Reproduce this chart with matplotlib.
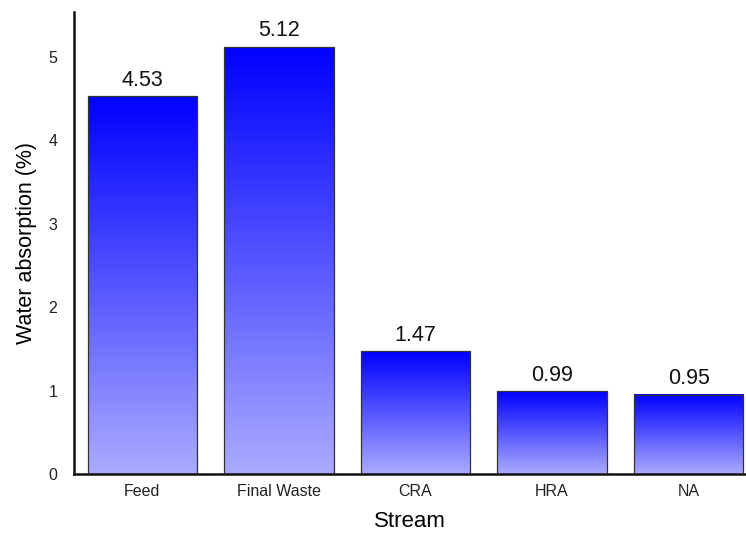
import numpy as np
import matplotlib.pyplot as plt
from matplotlib.colors import LinearSegmentedColormap

plt.rcParams['font.family'] = ['Liberation Sans', 'DejaVu Sans']

streams = ['Feed', 'Final Waste', 'CRA', 'HRA', 'NA']
absorption = [4.53, 5.12, 1.47, 0.99, 0.95]

# light lavender at the base, pure blue at the top of each bar
grad = LinearSegmentedColormap.from_list('bluefade', [(0.67, 0.67, 1.0), (0.0, 0.0, 1.0)])

fig = plt.figure(figsize=(7.46, 5.34), dpi=100)
ax = fig.add_axes([0.0992, 0.1124, 0.9008, 0.8651])

x = np.arange(len(streams))
width = 0.8
bars = ax.bar(x, absorption, width=width, color='none', edgecolor='#333333', linewidth=0.9, zorder=3)

ramp = np.linspace(0, 1, 256).reshape(-1, 1)
for b in bars:
    x0, y0 = b.get_x(), b.get_y()
    ax.imshow(ramp, cmap=grad, origin='lower', aspect='auto', zorder=2,
              extent=(x0, x0 + b.get_width(), y0, y0 + b.get_height()))

for xi, v in zip(x, absorption):
    ax.annotate('%.2f' % v, (xi, v), xytext=(0, 4), textcoords='offset points',
                ha='center', va='bottom', fontsize=15.5, color='#111111')

ax.set_xlim(-0.5, 4.42)
ax.set_ylim(0, 5.54)
ax.set_xticks(x)
ax.set_xticklabels(streams)
ax.set_yticks(range(6))
ax.tick_params(axis='both', length=0, labelsize=11.5, colors='#222222')
ax.tick_params(axis='y', pad=12)
ax.tick_params(axis='x', pad=7)

for side in ['top', 'right']:
    ax.spines[side].set_visible(False)
for side in ['left', 'bottom']:
    ax.spines[side].set_linewidth(1.8)
    ax.spines[side].set_color('#111111')

ax.set_xlabel('Stream', fontsize=16, labelpad=9)
ax.set_ylabel('Water absorption (%)', fontsize=15.5, labelpad=8)

fig.savefig('out.png', dpi=100)
